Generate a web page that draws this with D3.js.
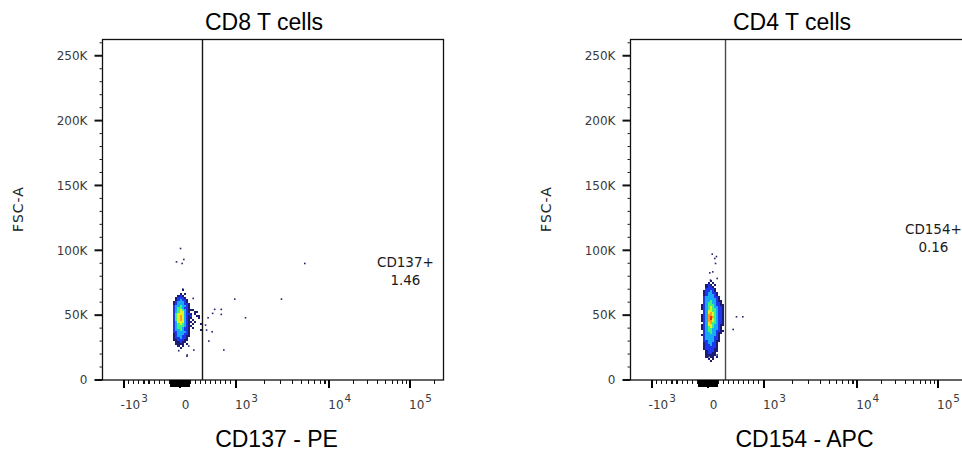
<!DOCTYPE html>
<html><head><meta charset="utf-8">
<script src="https://cdn.jsdelivr.net/npm/d3@7"></script>
<style>
html,body{margin:0;padding:0;background:#fff;}
svg{display:block;}
</style></head>
<body>
<svg id="chart" width="962" height="452"></svg>
<script>
// ---------- data ----------
const panelTitles = ["CD8 T cells", "CD4 T cells"];
const xAxisLabels = ["CD137 - PE", "CD154 - APC"];
const yAxisLabel = "FSC-A";
const gateNames = ["CD137+", "CD154+"];
const gatePercents = ["1.46", "0.16"];
const gateThresholds = [350, 252];          // fluorescence value of the vertical gate
const gateLabelX = [89000, 89000];          // where the gate statistic is printed
const gateLabelFSC = [87000, 112000];

const yTickValues = [0, 50000, 100000, 150000, 200000, 250000];
const yTickLabels = ["0", "50K", "100K", "150K", "200K", "250K"];
const yMinorStep = 10000;
const xTickValues = [-1000, 0, 1000, 10000, 100000];
const xTickBases = ["-10", "0", "10", "10", "10"];
const xTickExponents = ["3", "", "3", "4", "5"];

// pseudocolor density bins (fluorescence edges, FSC row height)
const binEdgesX = [-140,-100,-80,-60,-40,-20,0,20,40,60,80,100,140,180,220,260,300,340];
const binHeightFSC = 1540;

const cd8BinTop = 70000;
const cd8Density = [
  "00000001000000000",
  "00000000000000000",
  "00000010100000000",
  "00000121000000000",
  "00001222100000000",
  "00001232210000000",
  "00012333210000000",
  "00012333221000000",
  "00023343321000000",
  "00023443221000000",
  "00023454321110000",
  "00023455321001100",
  "00024555322101000",
  "00024565321200110",
  "00024565321100010",
  "00024565321010000",
  "00023555321101000",
  "00023454321010001",
  "00023444321100000",
  "00023443221010000",
  "00023343221000001",
  "00022333321000000",
  "00012333221000000",
  "00012332211000000",
  "00012232210000000",
  "00011222110000000",
  "00001121100000000",
  "00001111010000000",
  "00000101000000000",
  "00000010000000000"
];

const cd4BinTop = 78000;
const cd4Density = [
  "00000000000000000",
  "00000001000000000",
  "00000010100000000",
  "00000121010000000",
  "00000122100000000",
  "00000222210000000",
  "00001223210000000",
  "00001233221000000",
  "00001233321000000",
  "00002333322100000",
  "00002333332100000",
  "00002334332110000",
  "00002344332210000",
  "00012344432211000",
  "00012345433221000",
  "00012345443221000",
  "00002355443221000",
  "00002356543221000",
  "00012366543221000",
  "00012367643221000",
  "00012367543221000",
  "00012366543221000",
  "00002356443221000",
  "00012355433211000",
  "00012345433210000",
  "00012344333210000",
  "00002344332211000",
  "00002334332110000",
  "00012333332100000",
  "00002333322100000",
  "00002333322100000",
  "00002233321100000",
  "00001233221000000",
  "00001223221000000",
  "00001222221000000",
  "00001222211000000",
  "00000122211000000",
  "00000122110000000",
  "00000111110000000",
  "00000101101000000",
  "00000010100000000",
  "00000001000000000"
];

// sparse single events [fluorescence, FSC-A]
const cd8Events = [
  [10,101000],[-28,90690],[26,89460],[42,92540],[32,69675],[167,62500],
  [75,18860],[179,22710],[90,25790],[-7,22200],[72,18000],
  [590,54050],[720,54050],[720,50200],[550,50970],[460,47580],[410,41960],
  [430,38110],[540,36800],[475,29640],[770,22710],[985,61975],[1280,47580],
  [3110,61975],[5530,89460]
];
const cd4Events = [
  [46,96640],[87,94800],[78,89460],[71,93300],[22,82200],[51,82980],
  [29,76600],[94,77900],[468,48350],[592,48350],[403,38600],[13,17500],[94,18860]
];

const densityColors = ["none","#1c1c72","#1e36ec","#18aaf4","#3ef07c","#e6f024","#ff9c1a","#f02a14"];

// ---------- layout ----------
const svg = d3.select("#chart");
const panelLeft = [102.5, 630.5];
const plotW = 341, plotTop = 39.5, plotBottom = 380;

// biexponential-style display transform: linear inside ±10^3, log decades outside
function biex(v) {
  const a = Math.abs(v);
  return a <= 1000 ? v / 1000 : Math.sign(v) * (1 + Math.log10(a / 1000));
}
const xT = d3.scaleLinear()
  .domain([-1.25, -1, -0.1, 0, 0.1, 1, 2, 3, 3.42])
  .range([0, 20.7, 66.3, 77, 87.3, 133, 226.3, 307, 341]);
const x = v => xT(biex(v));

const y = d3.scaleLinear().domain([0, 262144]).range([plotBottom - 0.5, plotTop]);

const panels = [
  {density: cd8Density, top: cd8BinTop, events: cd8Events},
  {density: cd4Density, top: cd4BinTop, events: cd4Events}
];

panels.forEach((p, i) => {
  const g = svg.append("g").attr("transform", `translate(${panelLeft[i]},0)`);

  // density cells
  const cells = [];
  p.density.forEach((row, r) => {
    for (let c = 0; c < row.length && c < binEdgesX.length - 1; c++) {
      const lvl = +row[c];
      if (lvl > 0) cells.push({x0: binEdgesX[c], x1: binEdgesX[c + 1],
        yHi: p.top - r * binHeightFSC, yLo: p.top - (r + 1) * binHeightFSC, lvl});
    }
  });
  g.append("g").selectAll("rect").data(cells).join("rect")
    .attr("x", d => x(d.x0))
    .attr("width", d => x(d.x1) - x(d.x0))
    .attr("y", d => y(d.yHi))
    .attr("height", d => y(d.yLo) - y(d.yHi))
    .attr("fill", d => densityColors[d.lvl])
    .attr("shape-rendering", "crispEdges");

  // single events
  g.append("g").selectAll("rect").data(p.events).join("rect")
    .attr("x", d => x(d[0]) - 0.8)
    .attr("y", d => y(d[1]) - 0.8)
    .attr("width", 1.6).attr("height", 1.6)
    .attr("fill", "#22226a");

  // gate line
  g.append("line")
    .attr("x1", x(gateThresholds[i])).attr("x2", x(gateThresholds[i]))
    .attr("y1", plotTop).attr("y2", plotBottom)
    .attr("stroke", i === 0 ? "#151515" : "#4a4a4a").attr("stroke-width", 1.4);

  // frame
  g.append("rect").attr("x", 0).attr("y", plotTop).attr("width", plotW)
    .attr("height", plotBottom - plotTop)
    .attr("fill", "none").attr("stroke", "#111").attr("stroke-width", 1.3);

  // y axis: major + minor ticks
  const yMinor = d3.range(0, 262144, yMinorStep).filter(v => v % 50000 !== 0);
  const yMaj = g.append("g").call(d3.axisLeft(y).tickValues(yTickValues)
      .tickFormat((d, k) => yTickLabels[k]).tickSize(8).tickPadding(7));
  yMaj.select(".domain").remove();
  yMaj.selectAll("line").attr("stroke", "#111").attr("stroke-width", 2);
  yMaj.selectAll("text").attr("font-family", "DejaVu Sans").attr("font-size", 12)
    .attr("fill", "#3a3a3a").attr("dy", "0.36em");
  const yMin = g.append("g").call(d3.axisLeft(y).tickValues(yMinor).tickFormat("").tickSize(3));
  yMin.select(".domain").remove();
  yMin.selectAll("line").attr("stroke", "#222").attr("stroke-width", 1);

  // x axis ticks (drawn in display-transform space)
  const inDomain = v => biex(v) >= -1.25 && biex(v) <= 3.42;
  const fine = d3.range(10, 100, 10).flatMap(v => [v, -v]);
  const mid = d3.range(100, 1000, 100).flatMap(v => [v, -v])
    .concat(d3.range(2000, 10000, 1000), d3.range(20000, 100000, 10000), d3.range(200000, 300000, 100000))
    .filter(inDomain);
  const xg = g.append("g").attr("transform", `translate(0,${plotBottom})`);
  const drawTicks = (vals, size, width, color) => {
    const a = xg.append("g").call(d3.axisBottom(xT).tickValues(vals.map(biex)).tickFormat("").tickSize(size));
    a.select(".domain").remove();
    a.selectAll("line").attr("stroke", color).attr("stroke-width", width)
      .attr("shape-rendering", "crispEdges");
  };
  drawTicks(mid, 4, 1.1, "#111");
  drawTicks(fine, 7, 1, "#000");
  drawTicks(xTickValues, 8, 2, "#000");

  // x tick labels with superscript exponents
  xTickValues.forEach((v, k) => {
    const t = g.append("text")
      .attr("x", x(v) + (xTickExponents[k] ? 11 : 6))
      .attr("y", 408.5)
      .attr("text-anchor", "middle")
      .attr("font-family", "DejaVu Sans").attr("font-size", 12).attr("fill", "#3a3a3a")
      .text(xTickBases[k]);
    if (xTickExponents[k]) {
      t.append("tspan").attr("dy", -7).attr("dx", 1).attr("font-size", 10.5).text(xTickExponents[k]);
    }
  });

  // gate statistic
  const lab = g.append("text").attr("text-anchor", "middle")
    .attr("font-family", "DejaVu Sans").attr("font-size", 13.5).attr("fill", "#1a1a1a");
  lab.append("tspan").attr("x", x(gateLabelX[i])).attr("y", y(gateLabelFSC[i])).text(gateNames[i]);
  lab.append("tspan").attr("x", x(gateLabelX[i])).attr("dy", 18).text(gatePercents[i]);

  // titles
  g.append("text").attr("x", 161.5).attr("y", 29.5).attr("text-anchor", "middle")
    .attr("font-family", "Liberation Sans, Arial, sans-serif").attr("font-size", 23)
    .attr("fill", "#000").text(panelTitles[i]);
  g.append("text").attr("x", 174).attr("y", 446.5).attr("text-anchor", "middle")
    .attr("font-family", "Liberation Sans, Arial, sans-serif").attr("font-size", 23)
    .attr("fill", "#000").text(xAxisLabels[i]);
  g.append("text").attr("transform", `translate(-80,209) rotate(-90)`)
    .attr("text-anchor", "middle")
    .attr("font-family", "DejaVu Sans").attr("font-size", 14).attr("letter-spacing", 1)
    .attr("fill", "#222").text(yAxisLabel);
});
</script>
</body></html>
